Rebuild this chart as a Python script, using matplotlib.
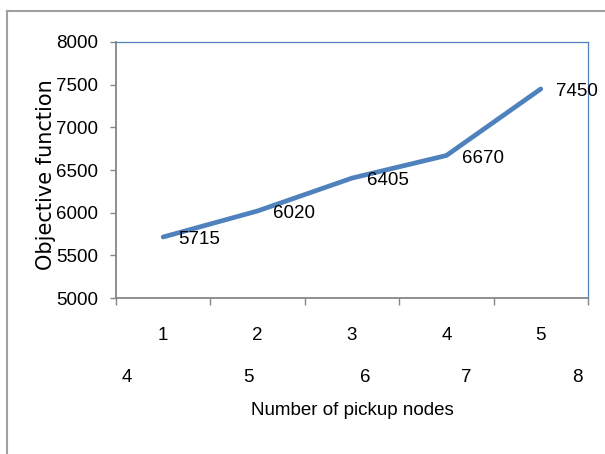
import numpy as np
import matplotlib
matplotlib.use("Agg")
import matplotlib.pyplot as plt
from matplotlib.lines import Line2D
from matplotlib.ticker import FixedLocator

# data
pickup_idx = ["1", "2", "3", "4", "5"]
pickup_nodes = ["4", "5", "6", "7", "8"]
objective = [5715, 6020, 6405, 6670, 7450]
y_ticks = [5000, 5500, 6000, 6500, 7000, 7500, 8000]

NARROW = ["Liberation Sans", "DejaVu Sans"]
FS = 13.5
blue = "#4F81BD"
grey = "#868686"

fig = plt.figure(figsize=(6.05, 4.54), dpi=100)
ax = fig.add_axes([0.1917, 0.3436, 0.7802, 0.5639])

x = np.arange(len(objective))
ax.plot(x, objective, color=blue, lw=3.4, solid_capstyle="round", zorder=3)

# data labels, a bit to the right of each point
for xi, v in zip(x, objective):
    ax.annotate(f"{v}", (xi, v), xytext=(11, -2), textcoords="offset points",
                ha="left", va="center", fontsize=FS, family=NARROW)

ax.set_xlim(-0.5, len(objective) - 0.5)
ax.set_ylim(5000, 8000)
ax.set_yticks(y_ticks)
ax.set_yticklabels([str(t) for t in y_ticks], family=NARROW, fontsize=FS)
ax.tick_params(axis="y", direction="out", length=4, width=1, color=grey, pad=9)

ax.set_xticks(x)
ax.set_xticklabels(pickup_idx, family=NARROW, fontsize=FS)
ax.tick_params(axis="x", which="major", length=0, pad=21)
ax.xaxis.set_minor_locator(FixedLocator(np.arange(len(objective) + 1) - 0.5))
ax.tick_params(axis="x", which="minor", direction="out", length=5, width=1, color=grey)

# second row of category labels
pos2 = [-0.38, 0.90, 2.14, 3.21, 4.39]
for p, lab in zip(pos2, pickup_nodes):
    ax.text(p, -0.309, lab, transform=ax.get_xaxis_transform(), ha="center",
            va="center", fontsize=FS, family=NARROW)

ax.set_xlabel("Number of pickup nodes", family=NARROW, fontsize=FS)
ax.xaxis.set_label_coords(0.5, -0.405)
ax.set_ylabel("Objective function", fontsize=15, va="center")
ax.yaxis.set_label_coords(-0.149, 0.48)

for s in ["left", "bottom"]:
    ax.spines[s].set_color(grey)
    ax.spines[s].set_linewidth(1.3)
for s in ["top", "right"]:
    ax.spines[s].set_color(blue)
    ax.spines[s].set_linewidth(0.9)

# outer chart frame (only top and left edges visible)
fig.add_artist(Line2D([7 / 605, 1], [1 - 11 / 454] * 2, color="#A0A0A0", lw=1.5,
                      transform=fig.transFigure))
fig.add_artist(Line2D([7 / 605] * 2, [0, 1 - 11 / 454], color="#A0A0A0", lw=1.5,
                      transform=fig.transFigure))

fig.savefig("out.png", dpi=100)
